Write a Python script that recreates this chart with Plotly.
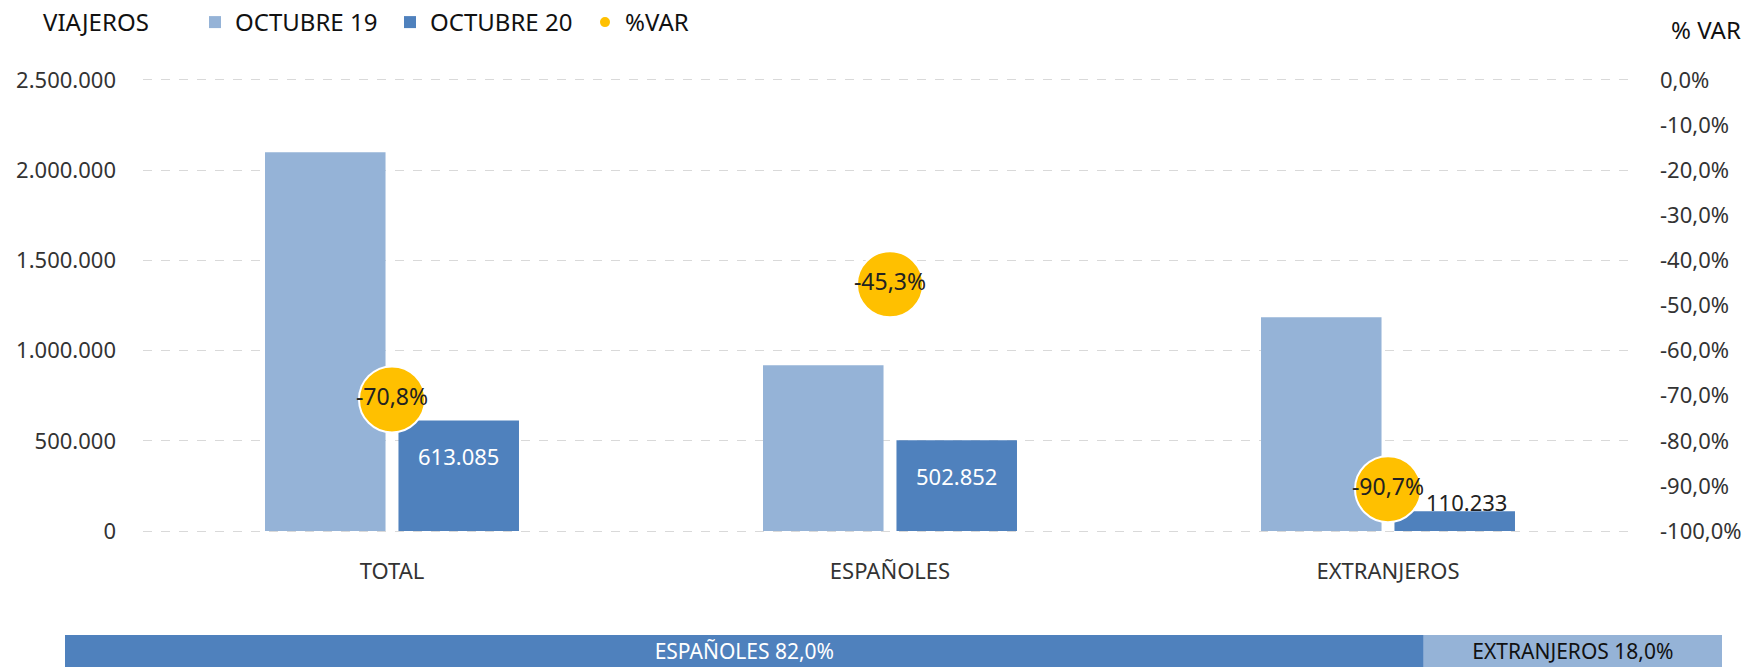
import plotly.graph_objects as go

# --- data ---
categories = ["TOTAL", "ESPAÑOLES", "EXTRANJEROS"]
oct19 = [2099606, 919291, 1185301]
oct20 = [613085, 502852, 110233]
pct_var = [-0.708, -0.453, -0.907]

pct_ticks = [0, -0.1, -0.2, -0.3, -0.4, -0.5, -0.6, -0.7, -0.8, -0.9, -1.0]
pct_tick_labels = ["0,0%", "-10,0%", "-20,0%", "-30,0%", "-40,0%", "-50,0%",
                   "-60,0%", "-70,0%", "-80,0%", "-90,0%", "-100,0%"]

share_names = ["ESPAÑOLES", "EXTRANJEROS"]
share_values = [0.82, 0.18]

LIGHT = "#95B3D7"
DARK = "#4F81BD"
GOLD = "#FFC000"
FONT = "Noto Sans"
W, H = 1756, 667


def fmt_int(v):
    return f"{v:,d}".replace(",", ".")


fig = go.Figure()

# --- main bars ---
fig.add_trace(go.Bar(
    x=categories, y=oct19, name="OCTUBRE 19",
    marker_color=LIGHT, width=0.242, offset=-0.255,
    hoverinfo="skip",
))
fig.add_trace(go.Bar(
    x=categories, y=oct20, name="OCTUBRE 20",
    marker_color=DARK, width=0.242, offset=0.013,
    hoverinfo="skip",
))

# --- %VAR bubbles on right axis ---
fig.add_trace(go.Scatter(
    x=categories, y=pct_var, name="%VAR", yaxis="y2",
    mode="markers+text",
    marker=dict(color=GOLD, size=66, line=dict(color="white", width=2)),
    text=[f"{v * 100:.1f}%".replace(".", ",") for v in pct_var],
    textposition="middle center",
    textfont=dict(color="#222", size=23, family=FONT),
    cliponaxis=False, hoverinfo="skip",
))

# --- bottom share strip ---
base = 0
for i, (nm, val) in enumerate(zip(share_names, share_values)):
    fig.add_trace(go.Bar(
        x=[val], y=[0], base=[base], orientation="h",
        xaxis="x2", yaxis="y3", width=1,
        marker_color=DARK if i == 0 else LIGHT,
        text=[f"{nm} {val * 100:.1f}%".replace(".", ",")],
        textposition="inside",
        insidetextanchor="middle", textangle=0, constraintext="none",
        insidetextfont=dict(color="white" if i == 0 else "#111", size=21, family=FONT),
        showlegend=False, hoverinfo="skip",
    ))
    base += val

# --- value labels on OCTUBRE 20 bars (inside end, last one outside) ---
labels = []
for i, v in enumerate(oct20):
    inside = v > 300000
    labels.append(dict(
        x=i + 0.134, y=v, xref="x", yref="y", text=fmt_int(v),
        showarrow=False, xanchor="center", yanchor="middle",
        yshift=-36 if inside else 9, xshift=0 if inside else 12,
        font=dict(size=22, color="white" if inside else "#222", family=FONT),
    ))

x0, x1 = 143 / W, 1637 / W
y0, y1 = 1 - 532 / H, 1 - 78 / H
pad = 6000  # keep the 0 and 2.500.000 gridlines from being dropped at the edges

fig.update_layout(
    width=W, height=H,
    template="none",
    paper_bgcolor="white", plot_bgcolor="white",
    margin=dict(l=0, r=0, t=0, b=0),
    separators=",.",
    barmode="overlay",
    font=dict(family=FONT, size=22, color="#333"),
    showlegend=True,
    legend=dict(
        orientation="h", x=195 / W, xanchor="left", y=1 - 22 / H, yanchor="middle",
        font=dict(size=24, color="#111"), itemsizing="constant",
        entrywidth=150, bgcolor="rgba(0,0,0,0)",
    ),
    xaxis=dict(
        domain=[x0, x1], anchor="y", showgrid=False, zeroline=False, showline=False,
        ticks="", ticklabelstandoff=24, automargin=False,
        tickfont=dict(size=22, color="#333"),
    ),
    yaxis=dict(
        domain=[y0, y1], anchor="x", range=[-pad, 2500000 + pad],
        tickvals=[0, 500000, 1000000, 1500000, 2000000, 2500000],
        tickformat=",d", showgrid=True, gridcolor="#D9D9D9", griddash="dash",
        gridwidth=1, zeroline=False, showline=False, ticks="",
        ticklabelstandoff=26, automargin=False,
        tickfont=dict(size=22, color="#333"),
    ),
    yaxis2=dict(
        overlaying="y", side="right", anchor="x",
        range=[-1 - pad / 2500000, pad / 2500000],
        tickvals=pct_ticks, ticktext=pct_tick_labels,
        showgrid=False, zeroline=False, showline=False,
        ticks="", ticklabelstandoff=22, automargin=False,
        tickfont=dict(size=22, color="#333"),
    ),
    xaxis2=dict(
        domain=[65 / W, 1722 / W], anchor="y3", range=[0, 1],
        visible=False, fixedrange=True,
    ),
    yaxis3=dict(
        domain=[0, 1 - 635 / H], anchor="x2", range=[-0.5, 0.5],
        visible=False, fixedrange=True,
    ),
    annotations=labels + [
        dict(text="VIAJEROS", x=41 / W, y=1 - 21 / H, xref="paper", yref="paper",
             xanchor="left", yanchor="middle", showarrow=False,
             font=dict(size=24, color="#111")),
        dict(text="% VAR", x=1743 / W, y=1 - 29 / H, xref="paper", yref="paper",
             xanchor="right", yanchor="middle", showarrow=False,
             font=dict(size=24, color="#111")),
    ],
)

fig.write_html("out.html", config={"displayModeBar": False},
               post_script="document.body.style.margin='0';")
